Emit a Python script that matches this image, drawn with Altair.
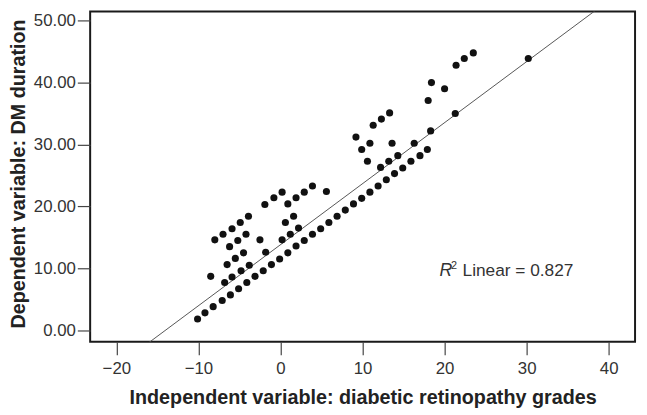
import altair as alt
import pandas as pd

# ---- data ----
band_x = [-10.1, -9.2, -8.2, -7.1, -6.1, -5.1, -4.1, -3.1, -2.1, -1.1, -0.1, 0.9, 1.9, 2.9,
          3.9, 4.9, 5.9, 6.9, 7.9, 8.9, 9.9, 10.9, 11.9, 12.9, 13.9, 14.9, 15.9, 17.0, 17.9]
band_y = [1.8, 2.8, 3.8, 4.8, 5.7, 6.7, 7.7, 8.7, 9.6, 10.6, 11.5, 12.5, 13.6, 14.5,
          15.5, 16.4, 17.4, 18.4, 19.4, 20.4, 21.3, 22.3, 23.3, 24.3, 25.3, 26.2, 27.3, 28.2, 29.2]

upper_x = [-8.5, -6.8, -5.9, -4.8, -3.8, -6.5, -5.5, -4.5, -1.8, -6.2, -5.2, -4.2, -2.5,
           -8.0, -7.0, -5.9, -4.9, -3.9, -1.9, -0.8, 0.2, 0.9, 1.9, 2.9, 3.9, 5.6, 0.6,
           1.6, 0.2, 1.2, 2.2, 9.2, 9.9, 10.9, 10.6, 11.3, 12.3, 13.3, 12.2, 13.2, 14.3,
           13.6, 16.3, 18.0, 18.4, 20.0, 18.3, 21.3, 21.4, 22.4, 23.5, 30.2]
upper_y = [8.7, 7.7, 8.6, 9.6, 10.5, 10.6, 11.6, 12.5, 12.6, 13.5, 14.5, 15.5, 14.6,
           14.6, 15.5, 16.4, 17.4, 18.4, 20.3, 21.4, 22.3, 20.4, 21.4, 22.3, 23.3, 22.4, 17.4,
           18.4, 14.6, 15.5, 16.5, 31.2, 29.2, 30.2, 27.3, 33.1, 34.1, 35.1, 26.3, 27.3, 28.2,
           30.2, 30.2, 37.1, 40.0, 39.0, 32.2, 35.0, 42.8, 43.9, 44.8, 43.9]

fit_intercept = [13.81]
fit_slope = [0.986]
r2_label = ["R", "2", "Linear = 0.827"]

x_ticks = [-20, -10, 0, 10, 20, 30, 40]
y_ticks = [0, 10, 20, 30, 40, 50]
x_domain = [-23.19, 43.21]
y_domain = [-1.88, 51.48]

x_title = "Independent variable: diabetic retinopathy grades"
y_title = "Dependent variable: DM duration"

pts = pd.DataFrame({"x": band_x + upper_x, "y": band_y + upper_y})
line_df = pd.DataFrame({
    "x": x_domain,
    "y": [fit_intercept[0] + fit_slope[0] * v for v in x_domain],
})

FONT = "Liberation Sans"
W, H = 551.8, 334.5

x_enc = alt.X("x:Q", scale=alt.Scale(domain=x_domain, nice=False, zero=False),
              axis=alt.Axis(values=x_ticks, format="d", title=x_title,
                            titleY=62, titleBaseline="alphabetic",
                            labelPadding=6))
y_enc = alt.Y("y:Q", scale=alt.Scale(domain=y_domain, nice=False, zero=False),
              axis=alt.Axis(values=y_ticks, format=".2f", title=y_title,
                            titleX=-72, titleY=164, titleBaseline="middle",
                            titleAlign="center", labelPadding=2))

line = alt.Chart(line_df).mark_line(color="#555555", strokeWidth=1, clip=True).encode(
    x=x_enc, y=y_enc)

points = alt.Chart(pts).mark_circle(size=52, color="#111111", opacity=1).encode(
    x=x_enc, y=y_enc)

lab = pd.DataFrame({"t": r2_label})
t_r = alt.Chart(lab).transform_filter(alt.datum.t == "R").mark_text(
    font=FONT, fontSize=18, fontStyle="italic", color="#333333",
    align="left", baseline="middle").encode(
    text="t:N", x=alt.value(353.8), y=alt.value(263))
t_2 = alt.Chart(lab).transform_filter(alt.datum.t == "2").mark_text(
    font=FONT, fontSize=11, color="#333333",
    align="left", baseline="middle").encode(
    text="t:N", x=alt.value(365.5), y=alt.value(258))
t_rest = alt.Chart(lab).transform_filter(alt.datum.t == "Linear = 0.827").mark_text(
    font=FONT, fontSize=17.5, color="#333333",
    align="left", baseline="middle").encode(
    text="t:N", x=alt.value(377.1), y=alt.value(263))

chart = alt.layer(line, points, t_r, t_2, t_rest).properties(
    width=W, height=H,
    autosize=alt.AutoSizeParams(type="none"),
    padding={"left": 83.2, "top": 1, "right": 4, "bottom": 71},
    background="white",
).configure_view(
    stroke="#1a1a1a", strokeWidth=2
).configure_axis(
    domain=False, grid=False,
    tickSize=13, tickColor="#444444", tickWidth=1.2,
    labelFont=FONT, labelFontSize=17, labelColor="#333333",
    titleFont=FONT, titleFontSize=20, titleFontWeight="bold", titleColor="#222222",
)

chart.save("out.html", embed_options={"renderer": "svg", "actions": False})
